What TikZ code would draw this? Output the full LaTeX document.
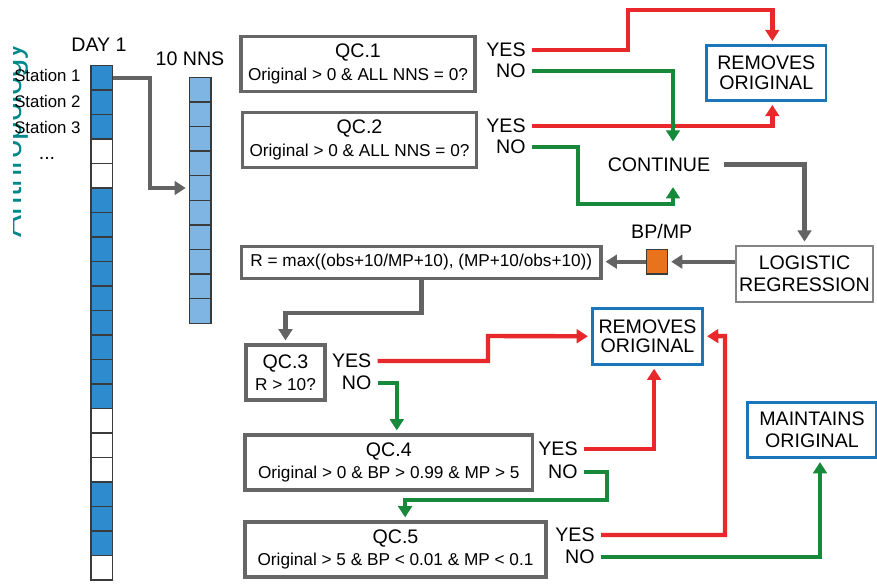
\documentclass[tikz,border=0pt]{standalone}
\usepackage{fontspec}
\setmainfont{Liberation Sans}
\usetikzlibrary{arrows.meta}

\definecolor{dayblue}{HTML}{2E8BCE}
\definecolor{nnsblue}{HTML}{7EB5E3}
\definecolor{cellline}{HTML}{3A3A3A}
\definecolor{yesred}{HTML}{E8282A}
\definecolor{nogreen}{HTML}{16893A}
\definecolor{flowgray}{HTML}{636363}
\definecolor{boxgray}{HTML}{666666}
\definecolor{outblue}{HTML}{1B75BB}
\definecolor{bporange}{HTML}{E8731C}
\definecolor{sideteal}{HTML}{00878A}

\newcommand\bigf{\fontsize{9.8}{11}\selectfont}
\newcommand\subf{\fontsize{8.6}{11.2}\selectfont}

\tikzset{
  cellbox/.style={draw=cellline, line width=0.75pt, inner sep=0pt,
                  minimum width=10.8pt, minimum height=12.25pt},
  qcbox/.style={draw=boxgray, line width=1.6pt, inner sep=0pt, align=center,
                font=\subf, minimum height=27.5pt},
  outbox/.style={draw=outblue, line width=1.4pt, inner sep=0pt, align=center,
                 font=\bigf, minimum height=27.5pt},
  answer/.style={font=\bigf, anchor=east, inner xsep=3pt, inner ysep=0pt},
  yesline/.style={yesred, line width=2.2pt, ->, shorten >=1.5pt},
  noline/.style={nogreen, line width=2.2pt, ->, shorten >=1.5pt},
  flowline/.style={flowgray, line width=2.2pt, ->, shorten >=1.5pt}
}

\begin{document}
\begin{tikzpicture}[x=0.5pt,y=-0.5pt,>={Triangle[width=6.8pt,length=5.6pt]}]
\useasboundingbox (0,0) rectangle (877,583);

% cut-off label of the panel on the left
\begin{scope}
  \clip (13,0) rectangle (877,583);
  \node[rotate=90, anchor=base, inner sep=0pt, text=sideteal,
        font=\fontsize{16.5}{17}\selectfont] (side) at (21,140) {Anthropology};
\end{scope}

% stations of one day and their nearest neighbours
\node[font=\bigf] (day) at (99,45) {DAY 1};
\node[font=\bigf] (nns) at (190,59) {10 NNS};
\foreach \i/\c in {1/dayblue,2/dayblue,3/dayblue,4/white,5/white,6/dayblue,7/dayblue,
                   8/dayblue,9/dayblue,10/dayblue,11/dayblue,12/dayblue,13/dayblue,
                   14/dayblue,15/white,16/white,17/white,18/dayblue,19/dayblue,
                   20/dayblue,21/white}
  \node[cellbox, fill=\c] (d\i) at (101.8,{65.7+24.5*\i-12.25}) {};
\foreach \i in {1,...,10}
  \node[cellbox, fill=nnsblue, minimum height=12.3pt] (n\i) at (200.3,{77.3+24.6*\i-12.3}) {};
\foreach \i/\name in {1/{Station 1},2/{Station 2},3/{Station 3}}
  \node[anchor=east, inner sep=0pt, font=\fontsize{8.4}{10}\selectfont] (st\i)
    at (81,{49+26*\i}) {\name};
\node[anchor=base, inner sep=0pt, font=\bigf] (stdots) at (47,159) {...};
\draw[flowline] (d1.east) -| (150,188) -- (n5.west);

% first checks
\node[qcbox, minimum width=117pt] (qc1) at (358,64) {{\bigf QC.1}\\Original > 0 \& ALL NNS = 0?};
\node[qcbox, minimum width=117pt] (qc2) at (359.5,140) {{\bigf QC.2}\\Original > 0 \& ALL NNS = 0?};
\node[answer] (yes1) at (532,50) {YES};
\node[answer] (no1) at (532,71) {NO};
\node[answer] (yes2) at (532,126) {YES};
\node[answer] (no2) at (532,147) {NO};
\node[outbox, minimum width=59.7pt] (rem1) at (766.3,73) {REMOVES\\[-1.2pt]ORIGINAL};
\node[font=\bigf, inner sep=0pt, minimum width=65pt, minimum height=19.4pt] (cont) at (659,164.3) {CONTINUE};

\draw[yesline] (yes1.east) -| (628,10) -| ([xshift=3pt]rem1.north);
\draw[yesline] (yes2.east) -| ([xshift=3pt]rem1.south);
\draw[noline] (no1.east) -| ([xshift=7pt]cont.north);
\draw[noline] (no2.east) -| (578,204) -| ([xshift=7pt]cont.south);

% model
\node[draw=boxgray!80, line width=1.1pt, inner sep=0pt, align=center, font=\bigf,
      minimum width=68.5pt, minimum height=28pt] (logi) at (804.5,273.7) {LOGISTIC\\REGRESSION};
\node[draw=cellline, line width=0.7pt, fill=bporange, inner sep=0pt,
      minimum width=10.5pt, minimum height=12.3pt] (bp) at (657,261.7) {};
\node[font=\bigf] (bplabel) at (661.7,231) {BP/MP};
\node[qcbox, minimum width=179.7pt, minimum height=15.8pt] (rbox) at (421.3,262.5)
  {R = max((obs+10/MP+10), (MP+10/obs+10))};

\draw[flowline] (cont.east) -| (logi.north);
\draw[flowline] (logi.west |- bp.east) -- (bp.east);
\draw[flowline] (bp.west) -- (bp.west -| rbox.east);

% checks against the model
\node[qcbox, minimum width=39.5pt] (qc3) at (285.5,372.5) {{\bigf QC.3}\\R > 10?};
\node[qcbox, minimum width=143.8pt] (qc4) at (388.8,462.5) {{\bigf QC.4}\\Original > 0 \& BP > 0.99 \& MP > 5};
\node[qcbox, minimum width=150.5pt] (qc5) at (395.5,549.5) {{\bigf QC.5}\\Original > 5 \& BP < 0.01 \& MP < 0.1};
\node[answer] (yes3) at (377.7,361) {YES};
\node[answer] (no3) at (377.7,383) {NO};
\node[answer] (yes4) at (584,449) {YES};
\node[answer] (no4) at (584,472) {NO};
\node[answer] (yes5) at (601,535) {YES};
\node[answer] (no5) at (601,557) {NO};
\node[outbox, minimum width=55.2pt, minimum height=28pt] (rem2) at (647.5,336.3) {REMOVES\\[-1.2pt]ORIGINAL};
\node[outbox, minimum width=64.7pt] (maint) at (812,430.2) {MAINTAINS\\ORIGINAL};

\draw[flowline] (rbox.south) -- ++(0,33) -| (qc3.north);
\draw[yesline] (yes3.east) -| (488,336) -- (rem2.west);
\draw[noline] (no3.east) -| ([xshift=4pt]qc4.north);
\draw[yesline] (yes4.east) -| ([xshift=3.3pt]rem2.south);
\draw[noline] (no4.east) -| (607,500) -| ([xshift=4.8pt]qc5.north);
\draw[yesline] (yes5.east) -| (725,336) -- (rem2.east);
\draw[noline] (no5.east) -| ([xshift=4pt]maint.south);
\end{tikzpicture}
\end{document}
